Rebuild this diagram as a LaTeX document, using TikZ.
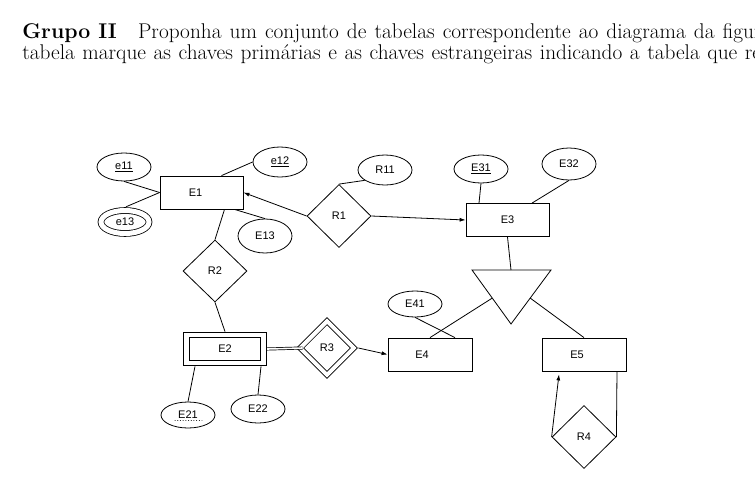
\documentclass[tikz,border=0pt]{standalone}
\usepackage{fontspec}
\newfontfamily\dsans{Liberation Sans}
\usetikzlibrary{shapes.geometric,arrows.meta,calc}
\begin{document}
\begin{tikzpicture}[x=1pt,y=-1pt,line width=0.8pt,
  every node/.style={font=\dsans\fontsize{11}{13}\selectfont, inner sep=0pt},
  hdr/.style={anchor=base west, font=\rmfamily\fontsize{21.3}{22.4}\selectfont},
  ent/.style={draw, rectangle, minimum width=83pt, minimum height=33pt},
  attr/.style={draw, ellipse, minimum width=54pt, minimum height=28pt},
  rel/.style={draw, diamond, minimum width=64pt, minimum height=63pt},
  arr/.style={-{Latex[length=6pt,width=4pt]}}]
\fill[white] (0,0) rectangle (755,482);
\useasboundingbox (0,0) rectangle (755,482);
% header
\node[hdr] (h1) at (22,38) {\textbf{Grupo II}\quad\spaceskip=8.1pt Proponha um conjunto de tabelas correspondente ao diagrama da figura};
\node[hdr] (h2) at (22,59.5) {\spaceskip=7.6pt tabela marque as chaves primárias e as chaves estrangeiras indicando a tabela que referenciam};
% entities and attributes
\node[ent] (E1) at (201.5,192.5) {\hspace*{-12pt}E1};
\node[attr] (e11) at (124,167) {\underline{e11}};
\node[attr, minimum height=30pt] (e12) at (280,162) {\underline{e12}};
\node[attr, double, double distance=5pt, minimum width=48pt, minimum height=23pt] (e13) at (125,222) {e13};
\node[attr, minimum height=34pt] (E13n) at (265,236) {E13};
\node[rel] (R1) at (339,216) {R1};
\node[attr, minimum height=30pt] (R11) at (385,170) {R11};
\node[ent] (E3) at (507.5,220) {E3};
\node[attr] (E31) at (481,169) {\underline{E31}};
\node[attr, minimum height=32pt] (E32) at (569,164) {E32};
\node[rel, minimum height=62pt] (R2) at (215,271) {R2};
\node[ent, double, double distance=4.5pt, minimum width=77pt, minimum height=28pt] (E2) at (225,349) {E2};
\node[rel, double, double distance=4pt, minimum width=54pt, minimum height=54pt] (R3) at (327,348) {R3};
\node[ent, minimum width=84pt] (E4) at (430,354.5) {\hspace*{-16pt}E4};
\node[attr, minimum height=26pt] (E41) at (415,304) {E41};
\node[ent, minimum width=84pt] (E5) at (584,354.5) {\hspace*{-14pt}E5};
\node[attr, minimum height=26pt] (E21) at (188,415) {E21};
\node[attr] (E22) at (258,409) {E22};
\node[rel] (R4) at (584,437) {R4};
% partial-key dotted underline of E21
\draw[line width=0.9pt, dash pattern=on 0.1pt off 2.6pt, line cap=round] ($(E21.center)+(-13,5)$) -- ($(E21.center)+(14,5)$);
% specialization triangle
\coordinate (Ta) at (472,270);
\coordinate (Tb) at (551,270);
\coordinate (Tc) at (511,324);
\draw (Ta) -- (Tb) -- (Tc) -- cycle;
\coordinate (Ttop) at (511,270);
\coordinate (Tl) at ($(Ta)!0.52!(Tc)$);
\coordinate (Tr) at ($(Tb)!0.52!(Tc)$);
% connectors
\draw (e11.south) -- (E1.west);
\draw ($(e13.north)+(1,-3.3)$) -- (E1.west);
\draw ($(E1.north)+(20,0)$) -- (e12.west);
\draw ($(E1.south)+(33,0)$) -- (E13n.north);
\draw ($(E1.south)+(23,0)$) -- (R2.north);
\draw (R2.south) -- ($(E2.north)+(0,-3)$);
\draw (R1.north) -- (R11.207);
\draw[arr] (R1.west) -- (E1.east);
\draw[arr] (R1.east) -- (E3.west);
\draw (E31.south) -- ($(E3.north)+(-28.5,0)$);
\draw (E32.south) -- ($(E3.north)+(24.5,0)$);
\draw (E3.south) -- (Ttop);
\draw (Tl) -- (E4.north);
\draw (E41.south) -- ($(E4.north)+(25,0)$);
\draw (Tr) -- (E5.north);
\draw[double, double distance=1.6pt, line width=0.7pt] ($(E2.east)+(3.3,0)$) -- ($(R3.west)+(3,0)$);
\draw[arr] ($(R3.east)+(4,0)$) -- (E4.west);
\draw ($(E2.south)+(-30,3)$) -- (E21.north);
\draw ($(E2.south)+(36,3)$) -- (E22.north);
\draw[arr] (R4.west) -- ($(E5.south)+(-25,3)$);
\draw (R4.east) -- ($(E5.south)+(33,0)$);
\end{tikzpicture}
\end{document}
